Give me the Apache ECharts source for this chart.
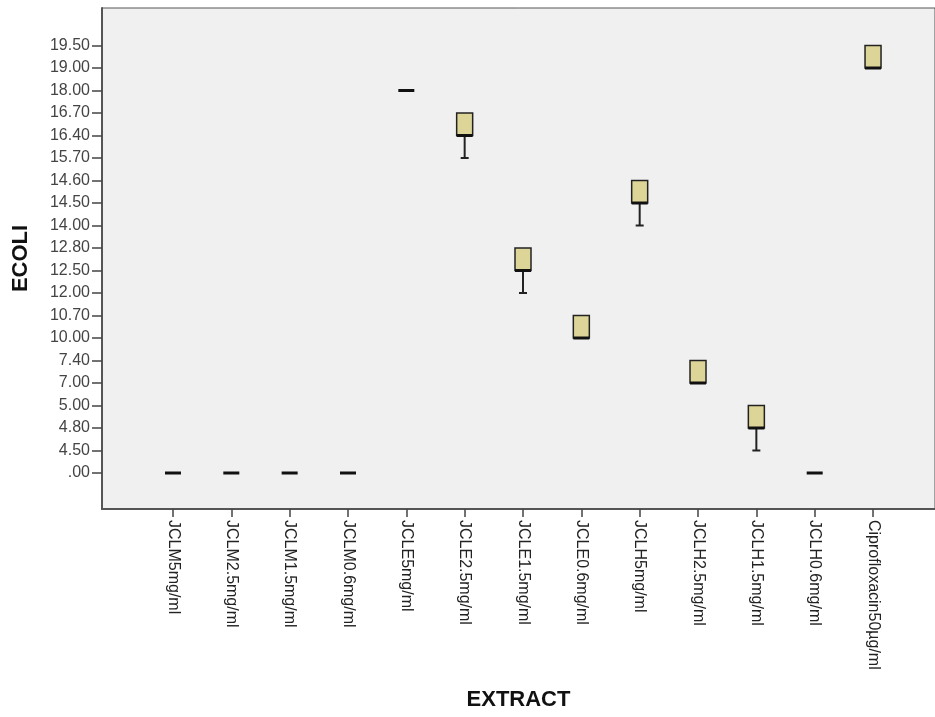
<!DOCTYPE html>
<html>
<head>
<meta charset="utf-8">
<script src="https://cdn.jsdelivr.net/npm/echarts@6/dist/echarts.min.js"></script>
<style>
html,body{margin:0;padding:0;background:#fff;}
#c{width:935px;height:717px;}
</style>
</head>
<body>
<div id="c"></div>
<script>
// Categories
var categories = ['JCLM5mg/ml','JCLM2.5mg/ml','JCLM1.5mg/ml','JCLM0.6mg/ml','JCLE5mg/ml','JCLE2.5mg/ml','JCLE1.5mg/ml','JCLE0.6mg/ml','JCLH5mg/ml','JCLH2.5mg/ml','JCLH1.5mg/ml','JCLH0.6mg/ml','Ciprofloxacin50µg/ml'];
// Ordinal y-axis tick values (equally spaced on the chart)
var tickValues = [0, 4.5, 4.8, 5, 7, 7.4, 10, 10.7, 12, 12.5, 12.8, 14, 14.5, 14.6, 15.7, 16.4, 16.7, 18, 19, 19.5];
var tickLabels = ['.00','4.50','4.80','5.00','7.00','7.40','10.00','10.70','12.00','12.50','12.80','14.00','14.50','14.60','15.70','16.40','16.70','18.00','19.00','19.50'];
// Box statistics per category
var mins    = [0,0,0,0,18, 15.7, 12.0, 10.0, 14.0, 7.0, 4.5, 0, 19.0];
var q1s     = [0,0,0,0,18, 16.4, 12.5, 10.0, 14.5, 7.0, 4.8, 0, 19.0];
var medians = [0,0,0,0,18, 16.4, 12.5, 10.0, 14.5, 7.0, 4.8, 0, 19.0];
var q3s     = [0,0,0,0,18, 16.7, 12.8, 10.7, 14.6, 7.4, 5.0, 0, 19.5];
var maxs    = [0,0,0,0,18, 16.7, 12.8, 10.7, 14.6, 7.4, 5.0, 0, 19.5];

function ord(v){ return tickValues.indexOf(v); }
var boxData = categories.map(function(c,i){
  return [i, ord(mins[i]), ord(q1s[i]), ord(medians[i]), ord(q3s[i]), ord(maxs[i])];
});
var tickIdx = tickValues.map(function(v,i){ return i; });

var yMin = -1.6, yMax = 20.667;
var chart = echarts.init(document.getElementById('c'));
var font = 'Liberation Sans, Arial, sans-serif';
chart.setOption({
  animation: false,
  backgroundColor: '#ffffff',
  grid: [
    {left: 102, right: -5, top: 8, bottom: 208, show: true, backgroundColor: '#f0f0f0', borderColor: '#555', borderWidth: 1, containLabel: false},
    {left: 143.8, right: 32.8, top: 8, bottom: 208, containLabel: false}
  ],
  xAxis: [
    {gridIndex: 0, type: 'value', min: 0, max: 1, axisLine: {show: true, onZero: false, lineStyle: {color: '#555', width: 2}}, axisTick: {show: false}, axisLabel: {show: false}, splitLine: {show: false},
     name: 'EXTRACT', nameLocation: 'middle', nameGap: 180, nameTextStyle: {fontFamily: font, fontWeight: 'bold', fontSize: 22, color: '#111'}},
    {gridIndex: 1, type: 'category', data: categories, boundaryGap: true,
     axisLine: {show: false, onZero: false}, axisTick: {show: true, alignWithLabel: true, length: 8, lineStyle: {color: '#444', width: 1.5}},
     axisLabel: {rotate: -90, margin: 11, fontFamily: font, fontSize: 16, color: '#222', interval: 0}, splitLine: {show: false}}
  ],
  yAxis: [
    {gridIndex: 0, type: 'value', min: yMin, max: yMax,
     axisLine: {show: true, onZero: false, lineStyle: {color: '#555', width: 2}},
     axisTick: {show: true, length: 10, customValues: tickIdx, lineStyle: {color: '#444', width: 1.5}},
     axisLabel: {customValues: tickIdx, margin: 12, fontFamily: font, fontSize: 16, color: '#444', formatter: function(v){ var i = Math.round(v); return tickLabels[i] || ''; }},
     splitLine: {show: false},
     name: 'ECOLI', nameLocation: 'middle', nameGap: 70, nameRotate: 90, nameTextStyle: {fontFamily: font, fontWeight: 'bold', fontSize: 22, color: '#111'}},
    {gridIndex: 1, type: 'value', min: yMin, max: yMax, show: false, splitLine: {show: false}}
  ],
  series: [{
    type: 'custom',
    xAxisIndex: 1, yAxisIndex: 1,
    data: boxData,
    encode: {x: 0, y: [1,2,3,4,5]},
    renderItem: function(params, api){
      var x = api.value(0), mn = api.value(1), q1 = api.value(2), md = api.value(3), q3 = api.value(4), mx = api.value(5);
      var w = 16, cap = 8;
      var pMin = api.coord([x, mn]), pQ1 = api.coord([x, q1]), pMd = api.coord([x, md]), pQ3 = api.coord([x, q3]), pMax = api.coord([x, mx]);
      var cx = pMin[0];
      var ch = [];
      if (q1 === q3) {
        ch.push({type: 'line', shape: {x1: cx - w/2, y1: pMd[1], x2: cx + w/2, y2: pMd[1]}, style: {stroke: '#111', lineWidth: 3}});
        return {type: 'group', children: ch};
      }
      if (mn < q1) {
        ch.push({type: 'line', shape: {x1: cx, y1: pQ1[1], x2: cx, y2: pMin[1]}, style: {stroke: '#222', lineWidth: 2}});
        ch.push({type: 'line', shape: {x1: cx - cap/2, y1: pMin[1], x2: cx + cap/2, y2: pMin[1]}, style: {stroke: '#222', lineWidth: 2}});
      }
      if (mx > q3) {
        ch.push({type: 'line', shape: {x1: cx, y1: pQ3[1], x2: cx, y2: pMax[1]}, style: {stroke: '#222', lineWidth: 2}});
        ch.push({type: 'line', shape: {x1: cx - cap/2, y1: pMax[1], x2: cx + cap/2, y2: pMax[1]}, style: {stroke: '#222', lineWidth: 2}});
      }
      ch.push({type: 'rect', shape: {x: cx - w/2, y: pQ3[1], width: w, height: pQ1[1] - pQ3[1]}, style: {fill: '#ddd597', stroke: '#222', lineWidth: 1.5}});
      ch.push({type: 'line', shape: {x1: cx - w/2, y1: pMd[1], x2: cx + w/2, y2: pMd[1]}, style: {stroke: '#111', lineWidth: 3}});
      return {type: 'group', children: ch};
    }
  }]
});
</script>
</body>
</html>
